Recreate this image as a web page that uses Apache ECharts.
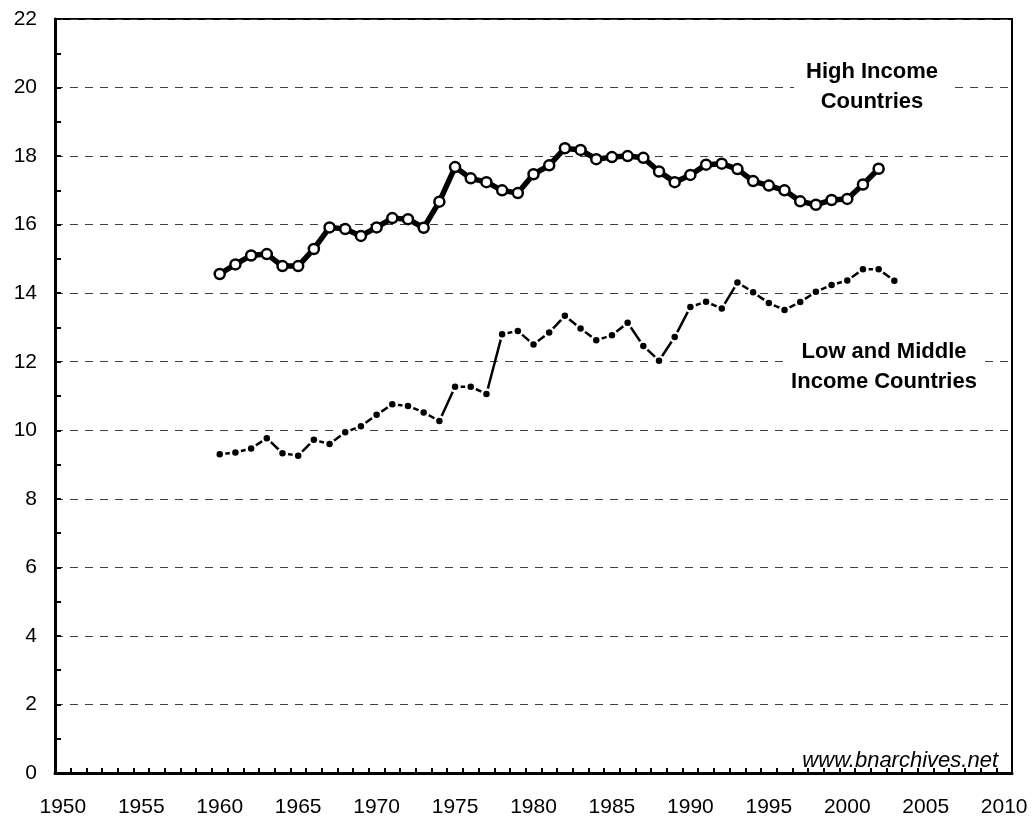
<!DOCTYPE html>
<html>
<head>
<meta charset="utf-8">
<script src="https://cdn.jsdelivr.net/npm/echarts@6/dist/echarts.min.js"></script>
<style>
  html, body { margin: 0; padding: 0; background: #ffffff; }
  #chart { width: 1032px; height: 820px; }
</style>
</head>
<body>
<div id="chart"></div>
<script>
// x轴 年份 1950 - 2010
const years = [];
for (let y = 1950; y <= 2010; y++) years.push(String(y));

const highStart = 1960;
const highIncome = [
  14.56, 14.84, 15.10, 15.14, 14.79, 14.79, 15.29, 15.92, 15.87, 15.67,
  15.92, 16.19, 16.16, 15.91, 16.67, 17.68, 17.35, 17.24, 17.00, 16.92,
  17.47, 17.73, 18.23, 18.18, 17.91, 17.97, 18.00, 17.95, 17.55, 17.24,
  17.45, 17.75, 17.78, 17.62, 17.27, 17.14, 17.00, 16.68, 16.58, 16.72,
  16.75, 17.17, 17.63
];

const lowStart = 1960;
const lowMiddleIncome = [
  9.30, 9.35, 9.47, 9.77, 9.33, 9.26, 9.72, 9.60, 9.94, 10.12,
  10.45, 10.76, 10.71, 10.52, 10.27, 11.27, 11.27, 11.06, 12.80, 12.90,
  12.50, 12.85, 13.34, 12.97, 12.63, 12.77, 13.14, 12.46, 12.03, 12.72,
  13.60, 13.75, 13.55, 14.31, 14.03, 13.71, 13.51, 13.74, 14.04, 14.24,
  14.37, 14.70, 14.70, 14.36
];

const yMin = 0;
const yMax = 22;
const yStep = 2;

const toPairs = (start, arr) => arr.map((v, i) => [String(start + i), v]);

const font = "'Liberation Sans', Arial, sans-serif";

const myChart = echarts.init(document.getElementById("chart"));
const option = {
  backgroundColor: "#ffffff",
  animation: false,
  grid: {
    left: 55,
    right: 20,
    top: 19,
    bottom: 47,
    show: true,
    borderColor: "#000000",
    borderWidth: 2
  },
  xAxis: {
    type: "category",
    data: years,
    boundaryGap: true,
    axisLine: { lineStyle: { color: "#000000", width: 3 } },
    axisTick: {
      show: true,
      inside: true,
      interval: 0,
      length: 5,
      lineStyle: { color: "#000000", width: 2 }
    },
    axisLabel: {
      interval: 4,
      color: "#000000",
      fontSize: 21,
      fontFamily: font,
      margin: 24
    },
    splitLine: { show: false }
  },
  yAxis: {
    type: "value",
    min: yMin,
    max: yMax,
    interval: yStep,
    axisLine: { show: true, lineStyle: { color: "#000000", width: 3 } },
    axisTick: {
      show: true,
      inside: true,
      length: 6,
      lineStyle: { color: "#000000", width: 2 }
    },
    minorTick: {
      show: true,
      splitNumber: 2,
      length: 6,
      lineStyle: { color: "#000000", width: 2 }
    },
    axisLabel: {
      color: "#000000",
      fontSize: 21,
      fontFamily: font,
      margin: 18
    },
    splitLine: {
      show: true,
      lineStyle: { color: "#404040", width: 1, type: [8, 7] }
    }
  },
  series: [
    {
      name: "High Income Countries",
      type: "line",
      data: toPairs(highStart, highIncome),
      showAllSymbol: true,
      symbol: "circle",
      symbolSize: 10,
      lineStyle: { color: "#000000", width: 5.5 },
      itemStyle: { color: "#ffffff", borderColor: "#000000", borderWidth: 2.5 },
      z: 3
    },
    {
      name: "Low and Middle Income Countries",
      type: "line",
      data: toPairs(lowStart, lowMiddleIncome),
      showAllSymbol: true,
      symbol: "circle",
      symbolSize: 9,
      lineStyle: { color: "#000000", width: 2.5 },
      itemStyle: { color: "#000000", borderColor: "#ffffff", borderWidth: 2.5 },
      z: 3
    }
  ],
  graphic: [
    {
      type: "text",
      x: 872,
      y: 57,
      z: 10,
      style: {
        text: "High Income\nCountries",
        align: "center",
        verticalAlign: "top",
        fill: "#000000",
        font: "bold 22px " + font,
        lineHeight: 30,
        backgroundColor: "#ffffff",
        padding: [0, 12, 0, 12]
      }
    },
    {
      type: "text",
      x: 884,
      y: 337,
      z: 10,
      style: {
        text: "Low and Middle\nIncome Countries",
        align: "center",
        verticalAlign: "top",
        fill: "#000000",
        font: "bold 22px " + font,
        lineHeight: 30,
        backgroundColor: "#ffffff",
        padding: [0, 6, 0, 6]
      }
    },
    {
      type: "text",
      x: 998,
      y: 750,
      z: 10,
      style: {
        text: "www.bnarchives.net",
        align: "right",
        verticalAlign: "top",
        fill: "#000000",
        font: "italic 22px " + font
      }
    }
  ]
};
myChart.setOption(option);
</script>
</body>
</html>
